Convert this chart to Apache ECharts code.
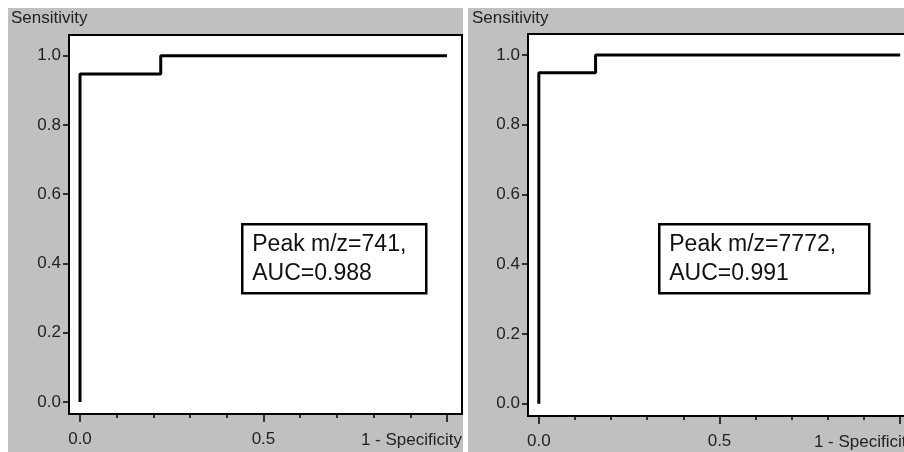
<!DOCTYPE html>
<html>
<head>
<meta charset="utf-8" />
<script src="https://cdn.jsdelivr.net/npm/echarts@6.0.0/dist/echarts.min.js"></script>
<style>
  html, body { margin: 0; padding: 0; background: #fff; }
  #chart { width: 904px; height: 452px; }
</style>
</head>
<body>
<div id="chart"></div>
<script>
// ROC curves (1 - specificity, sensitivity)
const rocLeft = [[0, 0], [0, 0.947], [0.22, 0.947], [0.22, 1.0], [1.0, 1.0]];
const rocRight = [[0, 0], [0, 0.949], [0.157, 0.949], [0.157, 1.0], [1.0, 1.0]];
const boxLines = [
  ["Peak m/z=741,", "AUC=0.988"],
  ["Peak m/z=7772,", "AUC=0.991"]
];
const xMinorTicks = [0, 0.1, 0.2, 0.3, 0.4, 0.5, 0.6, 0.7, 0.8, 0.9, 1.0];
const xMajorTicks = [0, 0.5, 1.0];
const xLabels = [0, 0.5];
const yTicks = [0, 0.2, 0.4, 0.6, 0.8, 1.0];

const font = "Liberation Sans, Arial, sans-serif";
const fmt = (v) => v.toFixed(1);

const myChart = echarts.init(document.getElementById("chart"));

const makeX = (gridIndex) => [
  {
    type: "value",
    gridIndex,
    min: -0.03,
    max: 1.041,
    position: "bottom",
    splitLine: { show: false },
    axisLine: { show: true, onZero: false, lineStyle: { color: "#000", width: 2 } },
    axisTick: { show: true, customValues: xMinorTicks, length: 4, lineStyle: { color: "#000", width: 1.5 } },
    axisLabel: {
      customValues: xLabels,
      formatter: fmt,
      margin: 17,
      color: "#222",
      fontSize: 17,
      fontFamily: font
    },
    name: "1 - Specificity",
    nameLocation: "end",
    nameGap: 0,
    nameTextStyle: {
      align: "right",
      verticalAlign: "top",
      padding: [18, 0, 0, 0],
      color: "#222",
      fontSize: 17,
      fontFamily: font
    }
  },
  {
    type: "value",
    gridIndex,
    min: -0.03,
    max: 1.041,
    position: "bottom",
    splitLine: { show: false },
    axisLine: { show: false, onZero: false },
    axisTick: { show: true, customValues: xMajorTicks, length: 8, lineStyle: { color: "#000", width: 1.5 } },
    axisLabel: { show: false }
  }
];

const makeY = (gridIndex) => ({
  type: "value",
  gridIndex,
  min: -0.035,
  max: 1.06,
  splitLine: { show: false },
  axisLine: { show: true, onZero: false, lineStyle: { color: "#000", width: 2 } },
  axisTick: { show: true, customValues: yTicks, length: 6, lineStyle: { color: "#000", width: 1.5 } },
  axisLabel: {
    customValues: yTicks,
    formatter: fmt,
    margin: 8,
    color: "#222",
    fontSize: 17,
    fontFamily: font
  }
});

const makeBox = (x, y, w, lines) => ({
  type: "group",
  left: x,
  top: y,
  children: [
    {
      type: "rect",
      shape: { x: 0, y: 0, width: w, height: 69 },
      style: { fill: "#fff", stroke: "#000", lineWidth: 2.5 }
    },
    {
      type: "text",
      x: 10,
      y: 20,
      style: { text: lines[0], fill: "#111", font: "23px " + font, textVerticalAlign: "middle" }
    },
    {
      type: "text",
      x: 10,
      y: 49,
      style: { text: lines[1], fill: "#111", font: "23px " + font, textVerticalAlign: "middle" }
    }
  ]
});

const gridBase = {
  show: true,
  backgroundColor: "#fff",
  borderColor: "#000",
  borderWidth: 2,
  containLabel: false,
  outerBoundsMode: "none"
};

const option = {
  animation: false,
  backgroundColor: "#fff",
  title: [
    { text: "Sensitivity", left: 11, top: 10, padding: 0, textStyle: { color: "#222", fontSize: 17, fontWeight: "normal", fontFamily: font } },
    { text: "Sensitivity", left: 472, top: 10, padding: 0, textStyle: { color: "#222", fontSize: 17, fontWeight: "normal", fontFamily: font } }
  ],
  graphic: [
    {
      type: "rect",
      z: -10,
      silent: true,
      shape: { x: 8, y: 8, width: 455, height: 444 },
      style: { fill: "#c0c0c0" }
    },
    {
      type: "rect",
      z: -10,
      silent: true,
      shape: { x: 468, y: 8, width: 436, height: 444 },
      style: { fill: "#c0c0c0" }
    },
    makeBox(241, 223, 184, boxLines[0]),
    makeBox(658, 223, 210, boxLines[1])
  ],
  grid: [
    Object.assign({ left: 69, top: 35, width: 393, height: 379 }, gridBase),
    Object.assign({ left: 528, top: 34, width: 387, height: 382 }, gridBase)
  ],
  xAxis: [...makeX(0), ...makeX(1)],
  yAxis: [makeY(0), makeY(1)],
  series: [
    {
      type: "line",
      xAxisIndex: 0,
      yAxisIndex: 0,
      data: rocLeft,
      showSymbol: false,
      lineStyle: { color: "#000", width: 3 }
    },
    {
      type: "line",
      xAxisIndex: 2,
      yAxisIndex: 1,
      data: rocRight,
      showSymbol: false,
      lineStyle: { color: "#000", width: 3 }
    }
  ]
};

option && myChart.setOption(option);
</script>
</body>
</html>
